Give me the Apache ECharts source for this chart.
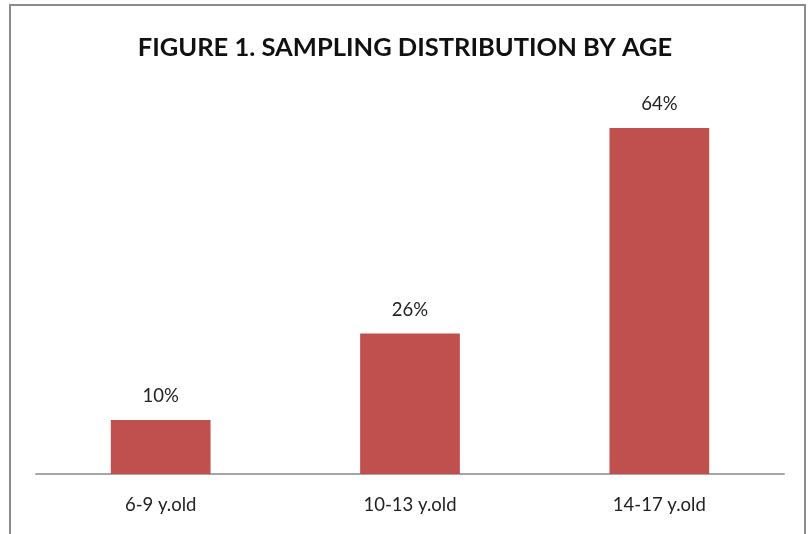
<!DOCTYPE html>
<html>
<head>
<meta charset="utf-8">
<script src="https://cdn.jsdelivr.net/npm/echarts@6/dist/echarts.min.js"></script>
<style>
  html, body { margin: 0; padding: 0; background: #fff; }
  #frame { position: absolute; left: 9px; top: 4px; width: 797px; height: 540px; border: 2px solid #8c8c8c; box-sizing: border-box; }
  #chart { position: absolute; left: 0; top: 0; width: 810px; height: 534px; }
</style>
</head>
<body>
<div id="frame"></div>
<div id="chart"></div>
<script>
const categories = ['6-9 y.old', '10-13 y.old', '14-17 y.old'];
const shares = [10, 26, 64];

const chart = echarts.init(document.getElementById('chart'));
chart.setOption({
  animation: false,
  title: {
    text: 'FIGURE 1. SAMPLING DISTRIBUTION BY AGE',
    left: 'center',
    top: 30,
    textStyle: { fontFamily: 'Lato', fontWeight: 'bold', fontSize: 25.5, color: '#111' }
  },
  grid: { left: 36, right: 26, top: 128, bottom: 60 },
  xAxis: {
    type: 'category',
    data: categories,
    axisLine: { lineStyle: { color: '#a6a6a6', width: 2 } },
    axisTick: { show: false },
    axisLabel: { fontFamily: 'Lato', fontSize: 18.5, color: '#222', margin: 22 }
  },
  yAxis: {
    type: 'value',
    min: 0,
    max: 64,
    show: false
  },
  series: [{
    type: 'bar',
    data: shares,
    barWidth: '40%',
    itemStyle: { color: '#c0504d' },
    label: {
      show: true,
      position: 'top',
      distance: 14,
      formatter: '{c}%',
      fontFamily: 'Lato',
      fontSize: 18.5,
      color: '#222'
    }
  }]
});
</script>
</body>
</html>
